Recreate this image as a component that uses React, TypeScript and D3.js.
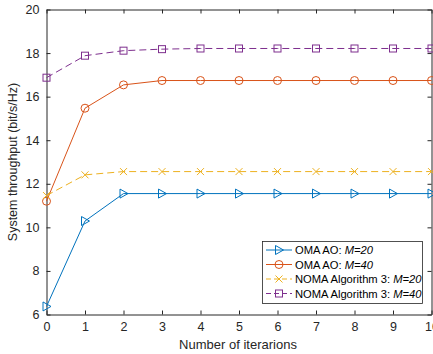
import React, { useEffect, useRef } from 'react'
import * as d3 from 'd3'

const iterations = [0, 1, 2, 3, 4, 5, 6, 7, 8, 9, 10]
const omaM20 = [6.37, 10.29, 11.55, 11.55, 11.55, 11.55, 11.55, 11.55, 11.55, 11.55, 11.55]
const omaM40 = [11.2, 15.47, 16.54, 16.74, 16.74, 16.74, 16.74, 16.74, 16.74, 16.74, 16.74]
const nomaM20 = [11.46, 12.41, 12.56, 12.56, 12.56, 12.56, 12.56, 12.56, 12.56, 12.56, 12.56]
const nomaM40 = [16.87, 17.88, 18.11, 18.18, 18.21, 18.21, 18.21, 18.21, 18.21, 18.21, 18.21]
const xTicks = [0, 1, 2, 3, 4, 5, 6, 7, 8, 9, 10]
const yTicks = [6, 8, 10, 12, 14, 16, 18, 20]

const series = [
  { prefix: 'OMA AO: ', m: 'M=20', values: omaM20, color: '#0072BD', dash: null, marker: 'tri' },
  { prefix: 'OMA AO: ', m: 'M=40', values: omaM40, color: '#D95319', dash: null, marker: 'circle' },
  { prefix: 'NOMA Algorithm 3: ', m: 'M=20', values: nomaM20, color: '#EDB120', dash: '7,4', marker: 'x' },
  { prefix: 'NOMA Algorithm 3: ', m: 'M=40', values: nomaM40, color: '#7E2F8E', dash: '7,4', marker: 'square' },
]

const axisColor = '#262626'
const font = "'Liberation Sans', Arial, sans-serif"

function drawMarker(g, type, x, y, color) {
  if (type === 'tri') {
    g.append('path')
      .attr('d', `M${x - 3.5},${y - 4.5}L${x + 4.5},${y}L${x - 3.5},${y + 4.5}Z`)
      .attr('fill', 'none').attr('stroke', color).attr('stroke-width', 1)
  } else if (type === 'circle') {
    g.append('circle').attr('cx', x).attr('cy', y).attr('r', 4)
      .attr('fill', 'none').attr('stroke', color).attr('stroke-width', 1)
  } else if (type === 'x') {
    g.append('path')
      .attr('d', `M${x - 3.5},${y - 3.5}L${x + 3.5},${y + 3.5}M${x - 3.5},${y + 3.5}L${x + 3.5},${y - 3.5}`)
      .attr('stroke', color).attr('stroke-width', 1)
  } else {
    g.append('rect').attr('x', x - 3.5).attr('y', y - 3.5).attr('width', 7).attr('height', 7)
      .attr('fill', 'none').attr('stroke', color).attr('stroke-width', 1)
  }
}

const App = () => {
  const ref = useRef(null)

  useEffect(() => {
    const svg = d3.select(ref.current)
    svg.selectAll('*').remove()

    const left = 46.5
    const right = 431.5
    const top = 9.5
    const bottom = 314.5

    const x = d3.scaleLinear().domain([0, 10]).range([left, right])
    const y = d3.scaleLinear().domain([6, 20]).range([bottom, top])

    svg.append('rect')
      .attr('x', left).attr('y', top)
      .attr('width', right - left).attr('height', bottom - top)
      .attr('fill', '#fff')

    // box with mirrored ticks
    const bottomAxis = svg.append('g')
      .attr('transform', `translate(0,${bottom})`)
      .call(d3.axisBottom(x).tickValues(xTicks).tickSize(-4).tickPadding(8).tickSizeOuter(0))
    const topAxis = svg.append('g')
      .attr('transform', `translate(0,${top})`)
      .call(d3.axisTop(x).tickValues(xTicks).tickSize(-4).tickFormat('').tickSizeOuter(0))
    const leftAxis = svg.append('g')
      .attr('transform', `translate(${left},0)`)
      .call(d3.axisLeft(y).tickValues(yTicks).tickSize(-4).tickPadding(7).tickSizeOuter(0))
    const rightAxis = svg.append('g')
      .attr('transform', `translate(${right},0)`)
      .call(d3.axisRight(y).tickValues(yTicks).tickSize(-4).tickFormat('').tickSizeOuter(0))

    for (const a of [bottomAxis, topAxis, leftAxis, rightAxis]) {
      a.attr('font-family', font).attr('font-size', 12.5)
      a.selectAll('.domain').attr('stroke', axisColor)
      a.selectAll('.tick line').attr('stroke', axisColor)
      a.selectAll('text').attr('fill', axisColor)
    }

    const g = svg.append('g')
    series.forEach(s => {
      const line = d3.line().x((d, i) => x(iterations[i])).y(d => y(d))
      g.append('path')
        .datum(s.values)
        .attr('d', line)
        .attr('fill', 'none')
        .attr('stroke', s.color)
        .attr('stroke-width', 1)
        .attr('stroke-dasharray', s.dash)
      s.values.forEach((v, i) => drawMarker(g, s.marker, x(iterations[i]), y(v), s.color))
    })

    // legend
    const lg = svg.append('g')
    lg.append('rect')
      .attr('x', 262.5).attr('y', 241.5).attr('width', 160).attr('height', 62)
      .attr('fill', '#fff').attr('stroke', axisColor).attr('stroke-width', 0.8)
    series.forEach((s, i) => {
      const ly = 250 + i * 14.5
      lg.append('line')
        .attr('x1', 266).attr('x2', 292).attr('y1', ly).attr('y2', ly)
        .attr('stroke', s.color).attr('stroke-width', 1)
        .attr('stroke-dasharray', s.dash ? '5,3' : null)
      drawMarker(lg, s.marker, 279, ly, s.color)
      const t = lg.append('text')
        .attr('x', 295).attr('y', ly + 4)
        .style('font-family', font).style('font-size', '11.2px')
        .attr('fill', '#000')
      t.append('tspan').text(s.prefix)
      t.append('tspan').attr('font-style', 'italic').text(s.m)
    })

    svg.append('text')
      .attr('transform', `translate(17,${(top + bottom) / 2}) rotate(-90)`)
      .attr('text-anchor', 'middle')
      .style('font-family', font).style('font-size', '12.5px')
      .attr('fill', axisColor)
      .text('System throughput (bit/s/Hz)')

    svg.append('text')
      .attr('x', (left + right) / 2 - 1).attr('y', 349)
      .attr('text-anchor', 'middle')
      .style('font-family', font).style('font-size', '13px')
      .attr('fill', axisColor)
      .text('Number of iterarions')
  }, [])

  return (
    <svg ref={ref} width={433} height={354}
      style={{ position: 'absolute', left: 0, top: 0, background: '#fff' }} />
  )
}

export default App
